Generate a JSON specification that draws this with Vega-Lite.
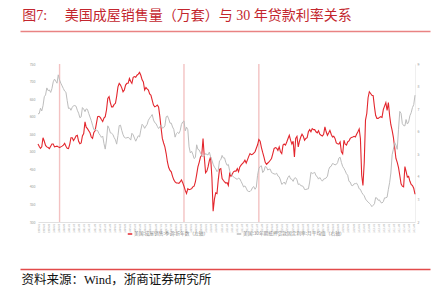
{
"$schema":"https://vega.github.io/schema/vega-lite/v6.json",
"background":"white",
"padding":{"left":17,"right":14,"top":8,"bottom":2},
"spacing":28,
"resolve":{"legend":{"color":"independent"}},
"config":{"view":{"stroke":null},"font":"Noto Sans CJK SC","axis":{"grid":false,"ticks":false}},
"datasets":{
"frame":[{"a":0},{"a":1}],
"refs":[{"d":"2000-06"},{"d":"2008-08"},{"d":"2013-07"}],
"main":[
{"d":"1999-01","s":522,"r":6.79},{"d":"1999-02","s":515,"r":6.81},{"d":"1999-03","s":510,"r":7.04},{"d":"1999-04","s":514,"r":6.92},{"d":"1999-05","s":540,"r":7.15},{"d":"1999-06","s":530,"r":7.55},{"d":"1999-07","s":518,"r":7.63},{"d":"1999-08","s":514,"r":7.94},{"d":"1999-09","s":512,"r":7.82},{"d":"1999-10","s":509,"r":7.85},{"d":"1999-11","s":516,"r":7.74},{"d":"1999-12","s":522,"r":7.91},
{"d":"2000-01","s":522,"r":8.21},{"d":"2000-02","s":514,"r":8.33},{"d":"2000-03","s":515,"r":8.24},{"d":"2000-04","s":516,"r":8.15},{"d":"2000-05","s":514,"r":8.52},{"d":"2000-06","s":512,"r":8.29},{"d":"2000-07","s":514,"r":8.15},{"d":"2000-08","s":516,"r":8.03},{"d":"2000-09","s":519,"r":7.91},{"d":"2000-10","s":524,"r":7.80},{"d":"2000-11","s":516,"r":7.75},{"d":"2000-12","s":510,"r":7.38},
{"d":"2001-01","s":509,"r":7.03},{"d":"2001-02","s":522,"r":7.05},{"d":"2001-03","s":540,"r":6.95},{"d":"2001-04","s":540,"r":7.08},{"d":"2001-05","s":532,"r":7.15},{"d":"2001-06","s":538,"r":7.16},{"d":"2001-07","s":545,"r":7.13},{"d":"2001-08","s":547,"r":6.95},{"d":"2001-09","s":530,"r":6.82},{"d":"2001-10","s":523,"r":6.62},{"d":"2001-11","s":525,"r":6.66},{"d":"2001-12","s":545,"r":7.07},
{"d":"2002-01","s":552,"r":7.00},{"d":"2002-02","s":585,"r":6.89},{"d":"2002-03","s":570,"r":7.01},{"d":"2002-04","s":566,"r":6.99},{"d":"2002-05","s":560,"r":6.81},{"d":"2002-06","s":554,"r":6.65},{"d":"2002-07","s":542,"r":6.49},{"d":"2002-08","s":538,"r":6.29},{"d":"2002-09","s":555,"r":6.09},{"d":"2002-10","s":560,"r":6.11},{"d":"2002-11","s":580,"r":6.07},{"d":"2002-12","s":600,"r":6.05},
{"d":"2003-01","s":601,"r":5.92},{"d":"2003-02","s":598,"r":5.84},{"d":"2003-03","s":592,"r":5.75},{"d":"2003-04","s":586,"r":5.81},{"d":"2003-05","s":596,"r":5.48},{"d":"2003-06","s":600,"r":5.23},{"d":"2003-07","s":619,"r":5.63},{"d":"2003-08","s":652,"r":6.26},{"d":"2003-09","s":657,"r":6.15},{"d":"2003-10","s":640,"r":5.95},{"d":"2003-11","s":628,"r":5.93},{"d":"2003-12","s":628,"r":5.88},
{"d":"2004-01","s":635,"r":5.74},{"d":"2004-02","s":638,"r":5.64},{"d":"2004-03","s":658,"r":5.45},{"d":"2004-04","s":685,"r":5.83},{"d":"2004-05","s":695,"r":6.27},{"d":"2004-06","s":690,"r":6.29},{"d":"2004-07","s":682,"r":6.06},{"d":"2004-08","s":671,"r":5.87},{"d":"2004-09","s":676,"r":5.75},{"d":"2004-10","s":690,"r":5.72},{"d":"2004-11","s":695,"r":5.73},{"d":"2004-12","s":695,"r":5.75},
{"d":"2005-01","s":709,"r":5.71},{"d":"2005-02","s":700,"r":5.63},{"d":"2005-03","s":695,"r":5.93},{"d":"2005-04","s":712,"r":5.86},{"d":"2005-05","s":714,"r":5.72},{"d":"2005-06","s":712,"r":5.58},{"d":"2005-07","s":718,"r":5.70},{"d":"2005-08","s":721,"r":5.82},{"d":"2005-09","s":726,"r":5.77},{"d":"2005-10","s":718,"r":6.07},{"d":"2005-11","s":705,"r":6.33},{"d":"2005-12","s":699,"r":6.27},
{"d":"2006-01","s":676,"r":6.15},{"d":"2006-02","s":683,"r":6.25},{"d":"2006-03","s":679,"r":6.32},{"d":"2006-04","s":676,"r":6.51},{"d":"2006-05","s":665,"r":6.60},{"d":"2006-06","s":661,"r":6.68},{"d":"2006-07","s":647,"r":6.76},{"d":"2006-08","s":633,"r":6.52},{"d":"2006-09","s":628,"r":6.40},{"d":"2006-10","s":630,"r":6.36},{"d":"2006-11","s":633,"r":6.24},{"d":"2006-12","s":628,"r":6.14},
{"d":"2007-01","s":600,"r":6.22},{"d":"2007-02","s":566,"r":6.29},{"d":"2007-03","s":538,"r":6.16},{"d":"2007-04","s":525,"r":6.18},{"d":"2007-05","s":514,"r":6.26},{"d":"2007-06","s":495,"r":6.66},{"d":"2007-07","s":471,"r":6.70},{"d":"2007-08","s":455,"r":6.57},{"d":"2007-09","s":447,"r":6.38},{"d":"2007-10","s":443,"r":6.38},{"d":"2007-11","s":430,"r":6.21},{"d":"2007-12","s":420,"r":6.10},
{"d":"2008-01","s":414,"r":5.76},{"d":"2008-02","s":411,"r":5.92},{"d":"2008-03","s":411,"r":5.97},{"d":"2008-04","s":410,"r":5.92},{"d":"2008-05","s":414,"r":6.04},{"d":"2008-06","s":420,"r":6.32},{"d":"2008-07","s":412,"r":6.43},{"d":"2008-08","s":402,"r":6.48},{"d":"2008-09","s":390,"r":6.04},{"d":"2008-10","s":381,"r":6.20},{"d":"2008-11","s":395,"r":6.09},{"d":"2008-12","s":392,"r":5.33},
{"d":"2009-01","s":393,"r":5.06},{"d":"2009-02","s":395,"r":5.13},{"d":"2009-03","s":400,"r":5.00},{"d":"2009-04","s":402,"r":4.81},{"d":"2009-05","s":414,"r":4.86},{"d":"2009-06","s":435,"r":5.42},{"d":"2009-07","s":457,"r":5.22},{"d":"2009-08","s":470,"r":5.19},{"d":"2009-09","s":485,"r":5.06},{"d":"2009-10","s":490,"r":4.95},{"d":"2009-11","s":538,"r":4.88},{"d":"2009-12","s":485,"r":4.93},
{"d":"2010-01","s":440,"r":5.03},{"d":"2010-02","s":445,"r":4.99},{"d":"2010-03","s":457,"r":4.97},{"d":"2010-04","s":475,"r":5.10},{"d":"2010-05","s":485,"r":4.89},{"d":"2010-06","s":428,"r":4.74},{"d":"2010-07","s":331,"r":4.56},{"d":"2010-08","s":365,"r":4.43},{"d":"2010-09","s":383,"r":4.35},{"d":"2010-10","s":381,"r":4.23},{"d":"2010-11","s":420,"r":4.30},{"d":"2010-12","s":450,"r":4.71},
{"d":"2011-01","s":452,"r":4.76},{"d":"2011-02","s":424,"r":4.95},{"d":"2011-03","s":419,"r":4.84},{"d":"2011-04","s":414,"r":4.84},{"d":"2011-05","s":411,"r":4.64},{"d":"2011-06","s":412,"r":4.51},{"d":"2011-07","s":404,"r":4.55},{"d":"2011-08","s":438,"r":4.27},{"d":"2011-09","s":430,"r":4.11},{"d":"2011-10","s":436,"r":4.07},{"d":"2011-11","s":443,"r":3.99},{"d":"2011-12","s":445,"r":3.96},
{"d":"2012-01","s":445,"r":3.92},{"d":"2012-02","s":452,"r":3.89},{"d":"2012-03","s":443,"r":3.95},{"d":"2012-04","s":457,"r":3.91},{"d":"2012-05","s":462,"r":3.80},{"d":"2012-06","s":466,"r":3.68},{"d":"2012-07","s":470,"r":3.55},{"d":"2012-08","s":476,"r":3.60},{"d":"2012-09","s":468,"r":3.50},{"d":"2012-10","s":477,"r":3.38},{"d":"2012-11","s":487,"r":3.35},{"d":"2012-12","s":495,"r":3.35},
{"d":"2013-01","s":492,"r":3.41},{"d":"2013-02","s":493,"r":3.53},{"d":"2013-03","s":496,"r":3.57},{"d":"2013-04","s":500,"r":3.45},{"d":"2013-05","s":510,"r":3.54},{"d":"2013-06","s":520,"r":4.07},{"d":"2013-07","s":535,"r":4.37},{"d":"2013-08","s":530,"r":4.46},{"d":"2013-09","s":512,"r":4.49},{"d":"2013-10","s":498,"r":4.19},{"d":"2013-11","s":485,"r":4.26},{"d":"2013-12","s":470,"r":4.46},
{"d":"2014-01","s":464,"r":4.43},{"d":"2014-02","s":468,"r":4.30},{"d":"2014-03","s":471,"r":4.34},{"d":"2014-04","s":476,"r":4.34},{"d":"2014-05","s":481,"r":4.19},{"d":"2014-06","s":495,"r":4.16},{"d":"2014-07","s":509,"r":4.13},{"d":"2014-08","s":512,"r":4.12},{"d":"2014-09","s":510,"r":4.16},{"d":"2014-10","s":504,"r":4.04},{"d":"2014-11","s":514,"r":4.00},{"d":"2014-12","s":500,"r":3.86},
{"d":"2015-01","s":495,"r":3.67},{"d":"2015-02","s":519,"r":3.71},{"d":"2015-03","s":522,"r":3.77},{"d":"2015-04","s":519,"r":3.67},{"d":"2015-05","s":528,"r":3.84},{"d":"2015-06","s":538,"r":3.98},{"d":"2015-07","s":547,"r":4.05},{"d":"2015-08","s":533,"r":3.91},{"d":"2015-09","s":522,"r":3.89},{"d":"2015-10","s":530,"r":3.80},{"d":"2015-11","s":485,"r":3.94},{"d":"2015-12","s":538,"r":3.96},
{"d":"2016-01","s":544,"r":3.87},{"d":"2016-02","s":514,"r":3.66},{"d":"2016-03","s":530,"r":3.69},{"d":"2016-04","s":542,"r":3.61},{"d":"2016-05","s":550,"r":3.60},{"d":"2016-06","s":544,"r":3.57},{"d":"2016-07","s":533,"r":3.44},{"d":"2016-08","s":538,"r":3.44},{"d":"2016-09","s":540,"r":3.46},{"d":"2016-10","s":557,"r":3.47},{"d":"2016-11","s":563,"r":3.77},{"d":"2016-12","s":557,"r":4.20},
{"d":"2017-01","s":566,"r":4.15},{"d":"2017-02","s":563,"r":4.17},{"d":"2017-03","s":563,"r":4.20},{"d":"2017-04","s":557,"r":4.05},{"d":"2017-05","s":554,"r":4.01},{"d":"2017-06","s":560,"r":3.90},{"d":"2017-07","s":550,"r":3.97},{"d":"2017-08","s":547,"r":3.88},{"d":"2017-09","s":545,"r":3.81},{"d":"2017-10","s":550,"r":3.90},{"d":"2017-11","s":571,"r":3.92},{"d":"2017-12","s":557,"r":3.95},
{"d":"2018-01","s":547,"r":4.03},{"d":"2018-02","s":554,"r":4.33},{"d":"2018-03","s":561,"r":4.44},{"d":"2018-04","s":550,"r":4.47},{"d":"2018-05","s":542,"r":4.59},{"d":"2018-06","s":544,"r":4.57},{"d":"2018-07","s":538,"r":4.53},{"d":"2018-08","s":525,"r":4.55},{"d":"2018-09","s":523,"r":4.63},{"d":"2018-10","s":522,"r":4.83},{"d":"2018-11","s":528,"r":4.87},{"d":"2018-12","s":500,"r":4.64},
{"d":"2019-01","s":494,"r":4.46},{"d":"2019-02","s":533,"r":4.37},{"d":"2019-03","s":522,"r":4.27},{"d":"2019-04","s":519,"r":4.14},{"d":"2019-05","s":528,"r":4.07},{"d":"2019-06","s":531,"r":3.80},{"d":"2019-07","s":538,"r":3.77},{"d":"2019-08","s":541,"r":3.62},{"d":"2019-09","s":542,"r":3.61},{"d":"2019-10","s":544,"r":3.69},{"d":"2019-11","s":542,"r":3.70},{"d":"2019-12","s":550,"r":3.72},
{"d":"2020-01","s":557,"r":3.62},{"d":"2020-02","s":565,"r":3.47},{"d":"2020-03","s":538,"r":3.45},{"d":"2020-04","s":433,"r":3.31},{"d":"2020-05","s":404,"r":3.23},{"d":"2020-06","s":470,"r":3.16},{"d":"2020-07","s":590,"r":3.02},{"d":"2020-08","s":609,"r":2.94},{"d":"2020-09","s":654,"r":2.89},{"d":"2020-10","s":671,"r":2.83},{"d":"2020-11","s":666,"r":2.77},{"d":"2020-12","s":661,"r":2.68},
{"d":"2021-01","s":660,"r":2.74},{"d":"2021-02","s":628,"r":2.81},{"d":"2021-03","s":604,"r":3.08},{"d":"2021-04","s":595,"r":3.06},{"d":"2021-05","s":595,"r":2.96},{"d":"2021-06","s":598,"r":2.98},{"d":"2021-07","s":600,"r":2.87},{"d":"2021-08","s":598,"r":2.84},{"d":"2021-09","s":620,"r":2.90},{"d":"2021-10","s":630,"r":3.07},{"d":"2021-11","s":640,"r":3.07},{"d":"2021-12","s":618,"r":3.10},
{"d":"2022-01","s":640,"r":3.45},{"d":"2022-02","s":602,"r":3.76},{"d":"2022-03","s":577,"r":4.17},{"d":"2022-04","s":561,"r":4.98},{"d":"2022-05","s":541,"r":5.23},{"d":"2022-06","s":512,"r":5.52},{"d":"2022-07","s":481,"r":5.41},{"d":"2022-08","s":470,"r":5.22},{"d":"2022-09","s":455,"r":6.11},{"d":"2022-10","s":433,"r":6.90},{"d":"2022-11","s":409,"r":6.81},{"d":"2022-12","s":402,"r":6.36},
{"d":"2023-01","s":400,"r":6.27},{"d":"2023-02","s":458,"r":6.26},{"d":"2023-03","s":444,"r":6.54},{"d":"2023-04","s":428,"r":6.34},{"d":"2023-05","s":430,"r":6.43},{"d":"2023-06","s":416,"r":6.71},{"d":"2023-07","s":407,"r":6.84},{"d":"2023-08","s":404,"r":7.07},{"d":"2023-09","s":396,"r":7.20},{"d":"2023-10","s":379,"r":7.62}
]},
"vconcat":[
{"title":{"text":"图7:\u3000\u00a0美国成屋销售量（万套）与 30 年贷款利率关系","anchor":"start","frame":"bounds","dx":5,"fontSize":14,"font":"Liberation Serif, Noto Sans CJK SC","fontWeight":"normal","color":"#C3262E","offset":5},
 "width":392,"height":1,
 "data":{"name":"frame"},
 "mark":{"type":"point","opacity":0},
 "encoding":{"x":{"field":"a","type":"quantitative","scale":{"domain":[0,1],"nice":false,"range":[-18,392]},"axis":{"title":null,"labels":false,"ticks":false,"domainColor":"#E98383","domainWidth":1.6}}}
},
{"width":377,"height":158,
 "layer":[
  {"data":{"name":"refs"},"mark":{"type":"rule","color":"#F3C2C2","strokeWidth":1.4},
   "encoding":{"x":{"field":"d","type":"temporal","scale":{"type":"utc"}}}},
  {"data":{"name":"main"},"mark":{"type":"line","strokeWidth":1.1},
   "encoding":{
    "x":{"field":"d","type":"temporal","scale":{"type":"utc"},"axis":{"title":null,"format":"%Y-%m","labelAngle":270,"labelFontSize":2.4,"labelColor":"#9a9a9a","labelPadding":1.5,"labelOverlap":false,"labelBound":false,"labelFlush":false,"tickCount":{"interval":"month","step":4},"domainColor":"#D9D9D9","domainWidth":0.8,"ticks":false,"grid":false}},
    "y":{"field":"s","type":"quantitative","scale":{"domain":[300,750],"nice":false,"zero":false},"axis":{"title":null,"values":[300,350,400,450,500,550,600,650,700,750],"labelFontSize":3.5,"labelColor":"#9a9a9a","domain":false,"ticks":false,"labelPadding":3,"minExtent":18,"maxExtent":18}},
    "color":{"datum":"美国:成屋销售:季调:折年数（左轴）","scale":{"domain":["美国:成屋销售:季调:折年数（左轴）","美国:30年期抵押贷款固定利率:月平均值（右轴）"],"range":["#E3262D","#BDBDBD"]},
     "legend":{"orient":"none","legendX":89,"legendY":167,"direction":"horizontal","title":null,"labelFontSize":4.7,"labelColor":"#888","symbolType":"stroke","symbolSize":20,"symbolStrokeWidth":1.5,"columnPadding":24,"labelOffset":1,"labelLimit":300,"padding":0}}
   }},
  {"data":{"name":"main"},"mark":{"type":"line","strokeWidth":1},
   "encoding":{
    "x":{"field":"d","type":"temporal","scale":{"type":"utc"}},
    "y":{"field":"r","type":"quantitative","scale":{"domain":[2,9],"nice":false,"zero":false},"axis":{"orient":"right","title":null,"values":[2,3,4,5,6,7,8,9],"labelFontSize":3.5,"labelColor":"#9a9a9a","domainColor":"#EBEBEB","domainWidth":0.8,"ticks":false,"labelPadding":2}},
    "color":{"datum":"美国:30年期抵押贷款固定利率:月平均值（右轴）"}
   }}
 ],
 "resolve":{"scale":{"y":"independent"}}
},
{"width":392,"height":1,
 "data":{"name":"frame"},
 "mark":{"type":"point","opacity":0},
 "encoding":{"x":{"field":"a","type":"quantitative","scale":{"domain":[0,1],"nice":false,"range":[-18,392]},"axis":{"title":"资料来源：Wind，浙商证券研究所","titleAnchor":"start","titleAlign":"left","titleX":-17,"titleFontSize":12.5,"titleFontWeight":"normal","titleColor":"#111111","titleFont":"Liberation Serif, Noto Sans CJK SC","titlePadding":4,"labels":false,"ticks":false,"domainColor":"#E24A4A","domainWidth":1.6,"offset":0}}}
}
]
}
